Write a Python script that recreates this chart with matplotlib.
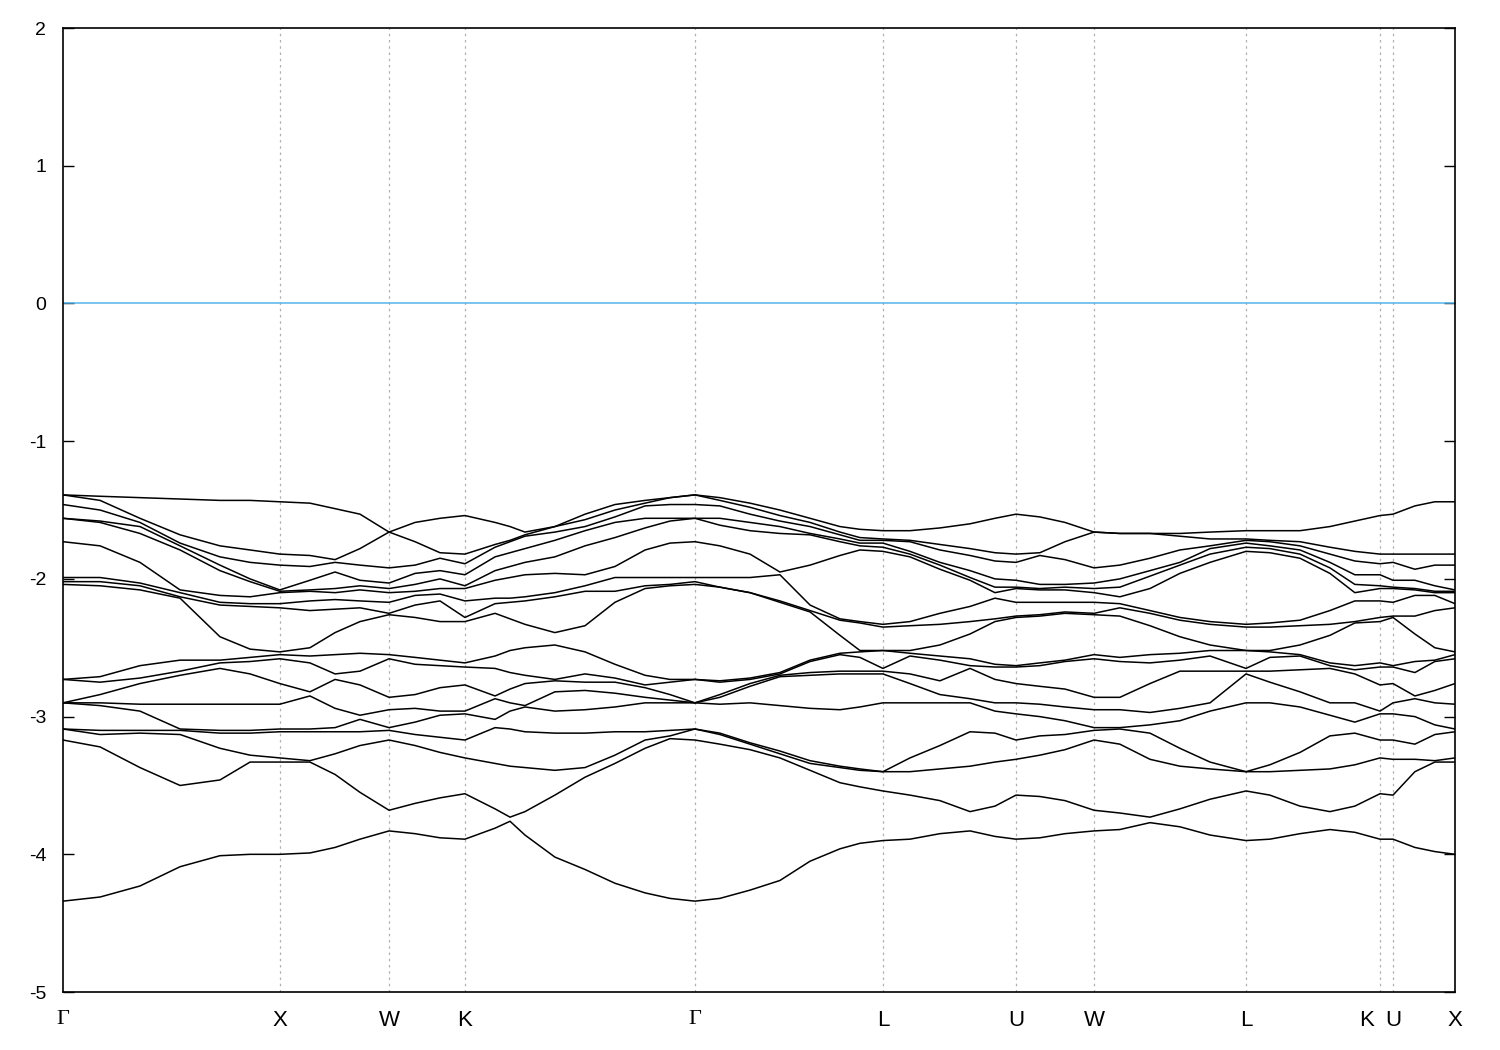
import numpy as np
import matplotlib
matplotlib.use('Agg')
from matplotlib import pyplot as plt
from matplotlib.transforms import ScaledTranslation, blended_transform_factory

# high-symmetry path (path length units)
k_ticks = [0.0, 1.0, 1.504, 1.854, 2.915, 3.782, 4.396, 4.756, 5.457, 6.075, 6.135, 6.421]
tick_labels = ['Γ', 'X', 'W', 'K', 'Γ', 'L', 'U', 'W', 'L', 'K', 'U', 'X']

# eigenvalues (eV) at the high-symmetry points
E_G = [-1.39, -1.39, -1.46, -1.56, -1.56, -1.73, -1.99, -2.02, -2.04, -2.73, -2.73, -2.90, -2.90, -2.90, -3.09, -3.09, -3.17, -4.34]
E_X = [-1.44, -1.82, -1.90, -2.08, -2.09, -2.10, -2.18, -2.21, -2.53, -2.55, -2.58, -2.76, -2.91, -3.09, -3.11, -3.30, -3.33, -4.00]
E_W = [-1.66, -1.66, -1.92, -2.03, -2.07, -2.10, -2.17, -2.25, -2.26, -2.55, -2.58, -2.86, -2.95, -3.08, -3.10, -3.17, -3.68, -3.83]
E_K = [-1.54, -1.82, -1.89, -1.97, -2.05, -2.07, -2.16, -2.28, -2.31, -2.61, -2.64, -2.77, -2.96, -2.98, -3.17, -3.30, -3.56, -3.89]
E_L = [-1.65, -1.71, -1.72, -1.74, -1.77, -1.80, -2.33, -2.35, -2.52, -2.52, -2.65, -2.67, -2.69, -2.90, -3.40, -3.40, -3.54, -3.90]
E_U = [-1.53, -1.82, -1.88, -2.01, -2.06, -2.07, -2.17, -2.27, -2.28, -2.63, -2.64, -2.76, -2.90, -2.98, -3.17, -3.31, -3.57, -3.89]

# points inside each segment
k_GX = [0.171, 0.355, 0.540, 0.724, 0.863]
E_GX = [
    [-1.40, -1.43, -1.50, -1.58, -1.59, -1.76, -1.99, -2.02, -2.05, -2.71, -2.75, -2.84, -2.90, -2.92, -3.10, -3.13, -3.22, -4.31],
    [-1.41, -1.56, -1.59, -1.62, -1.67, -1.88, -2.03, -2.05, -2.08, -2.63, -2.72, -2.76, -2.91, -2.96, -3.10, -3.12, -3.37, -4.23],
    [-1.42, -1.68, -1.74, -1.76, -1.79, -2.08, -2.10, -2.13, -2.14, -2.59, -2.67, -2.70, -2.91, -3.09, -3.10, -3.13, -3.50, -4.09],
    [-1.43, -1.76, -1.84, -1.90, -1.94, -2.12, -2.17, -2.19, -2.42, -2.59, -2.61, -2.65, -2.91, -3.10, -3.12, -3.23, -3.46, -4.01],
    [-1.43, -1.79, -1.88, -2.00, -2.02, -2.13, -2.18, -2.20, -2.51, -2.57, -2.60, -2.69, -2.91, -3.10, -3.12, -3.28, -3.33, -4.00],
]
k_XW = [1.139, 1.255, 1.370]
E_XW = [
    [-1.45, -1.83, -1.91, -2.01, -2.08, -2.09, -2.16, -2.23, -2.50, -2.56, -2.61, -2.82, -2.85, -3.09, -3.11, -3.32, -3.33, -3.99],
    [-1.49, -1.86, -1.88, -1.95, -2.07, -2.10, -2.15, -2.22, -2.39, -2.55, -2.69, -2.73, -2.94, -3.08, -3.11, -3.27, -3.42, -3.95],
    [-1.53, -1.78, -1.90, -2.01, -2.05, -2.08, -2.16, -2.21, -2.31, -2.54, -2.67, -2.77, -2.99, -3.02, -3.11, -3.21, -3.55, -3.89],
]
k_WK = [1.624, 1.739]
E_WK = [
    [-1.59, -1.73, -1.90, -1.96, -2.04, -2.09, -2.12, -2.19, -2.28, -2.57, -2.62, -2.84, -2.94, -3.04, -3.13, -3.21, -3.63, -3.85],
    [-1.56, -1.81, -1.85, -1.94, -2.00, -2.07, -2.11, -2.16, -2.31, -2.59, -2.63, -2.79, -2.96, -2.99, -3.15, -3.26, -3.59, -3.88],
]
k_KG = [1.993, 2.062, 2.131, 2.269, 2.408, 2.546, 2.685, 2.800]
E_KG = [
    [-1.59, -1.75, -1.77, -1.84, -1.94, -2.01, -2.14, -2.18, -2.25, -2.56, -2.65, -2.85, -2.87, -3.02, -3.08, -3.34, -3.67, -3.81],
    [-1.62, -1.72, -1.73, -1.81, -1.91, -1.99, -2.14, -2.17, -2.29, -2.52, -2.68, -2.80, -2.90, -2.96, -3.09, -3.36, -3.73, -3.76],
    [-1.66, -1.68, -1.69, -1.78, -1.88, -1.97, -2.13, -2.16, -2.33, -2.50, -2.70, -2.76, -2.92, -2.93, -3.11, -3.37, -3.69, -3.86],
    [-1.62, -1.62, -1.66, -1.72, -1.84, -1.96, -2.10, -2.13, -2.39, -2.48, -2.73, -2.74, -2.82, -2.96, -3.12, -3.39, -3.57, -4.02],
    [-1.53, -1.57, -1.62, -1.65, -1.76, -1.97, -2.05, -2.09, -2.34, -2.53, -2.69, -2.75, -2.81, -2.95, -3.12, -3.37, -3.44, -4.11],
    [-1.46, -1.50, -1.55, -1.59, -1.70, -1.91, -1.99, -2.09, -2.17, -2.62, -2.72, -2.75, -2.83, -2.93, -3.11, -3.28, -3.34, -4.21],
    [-1.43, -1.45, -1.47, -1.56, -1.63, -1.79, -1.99, -2.05, -2.07, -2.70, -2.77, -2.79, -2.86, -2.90, -3.11, -3.17, -3.23, -4.28],
    [-1.41, -1.41, -1.46, -1.56, -1.58, -1.74, -1.99, -2.04, -2.05, -2.73, -2.75, -2.84, -2.88, -2.90, -3.10, -3.14, -3.16, -4.32],
]
k_GL = [3.030, 3.169, 3.307, 3.446, 3.584, 3.676]
E_GL = [
    [-1.41, -1.43, -1.47, -1.56, -1.61, -1.76, -1.99, -2.06, -2.06, -2.74, -2.75, -2.84, -2.86, -2.91, -3.12, -3.13, -3.20, -4.32],
    [-1.45, -1.48, -1.53, -1.59, -1.65, -1.82, -1.99, -2.10, -2.10, -2.72, -2.73, -2.76, -2.78, -2.90, -3.19, -3.20, -3.24, -4.26],
    [-1.50, -1.54, -1.58, -1.62, -1.67, -1.95, -1.97, -2.16, -2.17, -2.68, -2.69, -2.70, -2.71, -2.92, -3.25, -3.27, -3.30, -4.19],
    [-1.56, -1.59, -1.62, -1.67, -1.68, -1.90, -2.19, -2.23, -2.24, -2.59, -2.60, -2.68, -2.70, -2.94, -3.32, -3.34, -3.39, -4.05],
    [-1.62, -1.66, -1.68, -1.71, -1.73, -1.83, -2.29, -2.30, -2.41, -2.54, -2.55, -2.67, -2.69, -2.95, -3.36, -3.37, -3.48, -3.96],
    [-1.64, -1.70, -1.72, -1.74, -1.76, -1.79, -2.31, -2.32, -2.57, -2.52, -2.53, -2.67, -2.69, -2.93, -3.38, -3.39, -3.51, -3.92],
]
k_LU = [3.907, 4.045, 4.184, 4.299]
E_LU = [
    [-1.65, -1.72, -1.73, -1.80, -1.82, -1.84, -2.31, -2.34, -2.52, -2.54, -2.56, -2.69, -2.76, -2.90, -3.30, -3.40, -3.57, -3.89],
    [-1.63, -1.75, -1.79, -1.88, -1.90, -1.93, -2.25, -2.33, -2.48, -2.56, -2.59, -2.74, -2.84, -2.90, -3.21, -3.38, -3.61, -3.85],
    [-1.60, -1.78, -1.83, -1.94, -1.99, -2.01, -2.20, -2.31, -2.40, -2.58, -2.63, -2.65, -2.87, -2.90, -3.11, -3.36, -3.69, -3.83],
    [-1.56, -1.81, -1.87, -2.00, -2.06, -2.10, -2.14, -2.29, -2.31, -2.62, -2.64, -2.73, -2.90, -2.96, -3.12, -3.33, -3.65, -3.87],
]
k_UW = [4.506, 4.622]
E_UW = [
    [-1.55, -1.81, -1.83, -2.04, -2.07, -2.08, -2.17, -2.26, -2.27, -2.61, -2.63, -2.78, -2.91, -3.00, -3.14, -3.28, -3.58, -3.88],
    [-1.59, -1.73, -1.86, -2.04, -2.06, -2.08, -2.17, -2.24, -2.25, -2.59, -2.60, -2.80, -2.93, -3.03, -3.13, -3.24, -3.61, -3.85],
]
k_WL = [4.875, 5.014, 5.152, 5.291]
E_WL = [
    [-1.67, -1.67, -1.90, -2.00, -2.06, -2.13, -2.18, -2.21, -2.27, -2.57, -2.60, -2.86, -2.95, -3.08, -3.09, -3.20, -3.70, -3.82],
    [-1.67, -1.67, -1.85, -1.94, -1.98, -2.07, -2.23, -2.25, -2.34, -2.55, -2.61, -2.76, -2.97, -3.06, -3.12, -3.31, -3.73, -3.77],
    [-1.67, -1.69, -1.79, -1.88, -1.90, -1.96, -2.28, -2.30, -2.42, -2.54, -2.59, -2.67, -2.94, -3.03, -3.23, -3.36, -3.67, -3.80],
    [-1.66, -1.71, -1.76, -1.78, -1.82, -1.88, -2.31, -2.33, -2.48, -2.52, -2.56, -2.67, -2.90, -2.96, -3.33, -3.38, -3.60, -3.86],
]
k_LK = [5.567, 5.706, 5.844, 5.959]
E_LK = [
    [-1.65, -1.72, -1.73, -1.76, -1.78, -1.81, -2.32, -2.35, -2.52, -2.53, -2.57, -2.67, -2.75, -2.90, -3.35, -3.40, -3.57, -3.89],
    [-1.65, -1.73, -1.76, -1.79, -1.82, -1.85, -2.30, -2.34, -2.48, -2.55, -2.56, -2.66, -2.82, -2.93, -3.26, -3.39, -3.65, -3.85],
    [-1.62, -1.77, -1.82, -1.88, -1.92, -1.96, -2.23, -2.33, -2.41, -2.61, -2.63, -2.65, -2.90, -2.99, -3.14, -3.38, -3.69, -3.82],
    [-1.58, -1.80, -1.87, -1.97, -2.04, -2.10, -2.16, -2.31, -2.32, -2.63, -2.66, -2.69, -2.90, -3.04, -3.12, -3.35, -3.65, -3.84],
]
k_UX = [6.236, 6.328]
E_UX = [
    [-1.47, -1.82, -1.93, -2.01, -2.07, -2.08, -2.12, -2.27, -2.40, -2.60, -2.68, -2.85, -2.87, -3.00, -3.20, -3.31, -3.40, -3.95],
    [-1.44, -1.82, -1.90, -2.05, -2.09, -2.10, -2.12, -2.23, -2.50, -2.59, -2.60, -2.81, -2.90, -3.06, -3.13, -3.32, -3.33, -3.98],
]

# stitch the path together
k_all = ([k_ticks[0]] + k_GX + [k_ticks[1]] + k_XW + [k_ticks[2]] + k_WK + [k_ticks[3]] + k_KG +
         [k_ticks[4]] + k_GL + [k_ticks[5]] + k_LU + [k_ticks[6]] + k_UW + [k_ticks[7]] + k_WL +
         [k_ticks[8]] + k_LK + [k_ticks[9], k_ticks[10]] + k_UX + [k_ticks[11]])
E_all = ([E_G] + E_GX + [E_X] + E_XW + [E_W] + E_WK + [E_K] + E_KG +
         [E_G] + E_GL + [E_L] + E_LU + [E_U] + E_UW + [E_W] + E_WL +
         [E_L] + E_LK + [E_K, E_U] + E_UX + [E_X])
bands = np.sort(np.array(E_all), axis=1)

fig = plt.figure(figsize=(15, 10.5), dpi=100)
ax = fig.add_axes([0.042, 0.0552, 0.928, 0.9181])

for kx in k_ticks[1:-1]:
    ax.axvline(kx, color='#b0b0b0', lw=0.9, ls=(0, (2, 3)), zorder=0)

ax.axhline(0, color='#56b4e9', lw=1.1)

for i in range(bands.shape[1]):
    ax.plot(k_all, bands[:, i], color='black', lw=1.1)

ax.set_xlim(k_ticks[0], k_ticks[-1])
ax.set_ylim(-5, 2)
ax.set_yticks(range(-5, 3))
ax.set_yticklabels([str(v) for v in range(-5, 3)], fontfamily='Liberation Sans', fontsize=14)
ax.set_xticks(k_ticks)
ax.set_xticklabels([])

# path labels drawn as text so K can be nudged away from U
xlab_tr = blended_transform_factory(ax.transData, ax.transAxes)
for i, (kx, name) in enumerate(zip(k_ticks, tick_labels)):
    tr = xlab_tr
    if i == 9:
        tr = xlab_tr + ScaledTranslation(-0.13, 0, fig.dpi_scale_trans)
    ax.text(kx, -0.019, name, transform=tr, ha='center', va='top', fontsize=16,
            fontfamily='Liberation Serif' if name == 'Γ' else 'Liberation Sans')

ax.tick_params(axis='y', direction='in', length=8, width=1, right=True, pad=12)
ax.tick_params(axis='x', length=0)
for sp in ax.spines.values():
    sp.set_linewidth(1.2)

fig.savefig('out.png', dpi=100)
